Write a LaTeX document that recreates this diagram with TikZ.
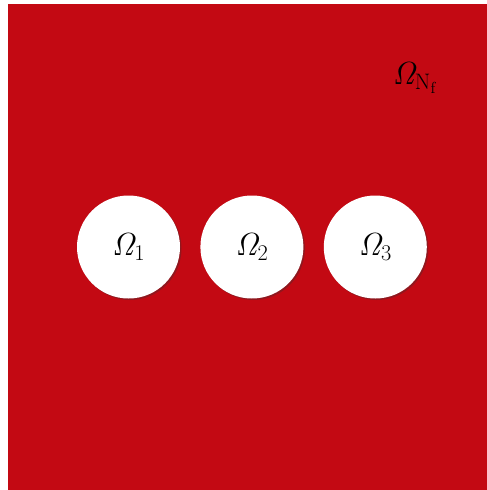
\documentclass[tikz,border=0pt]{standalone}
\usepackage{fix-cm}
\usepackage{amsmath}
\usetikzlibrary{positioning,shadows}
\definecolor{DomainRed}{HTML}{C30913}

\tikzset{
    hole/.style={
        circle,
        fill=white,
        minimum size=103pt,
        inner sep=0pt,
        drop shadow={shadow xshift=1.5pt,shadow yshift=-1.5pt,opacity=0.35,fill=black!80}
    },
    domlabel/.style={font=\fontsize{32}{34}\selectfont}
}

\begin{document}
\begin{tikzpicture}[x=1pt,y=-1pt]
    \useasboundingbox (0,0) rectangle (487,490);
    % fluid domain
    \fill[DomainRed] (8,4) rectangle (487,490);
    \node[domlabel] (nf) at (415,78) {$\mathit{\Omega}_{\mathrm{N_f}}$};
    % inclusions
    \node[hole, domlabel] (o1) at (128.5,247) {$\mathit{\Omega}_1$};
    \node[hole, domlabel, right=20pt of o1] (o2) {$\mathit{\Omega}_2$};
    \node[hole, domlabel, right=20pt of o2] (o3) {$\mathit{\Omega}_3$};
\end{tikzpicture}
\end{document}
